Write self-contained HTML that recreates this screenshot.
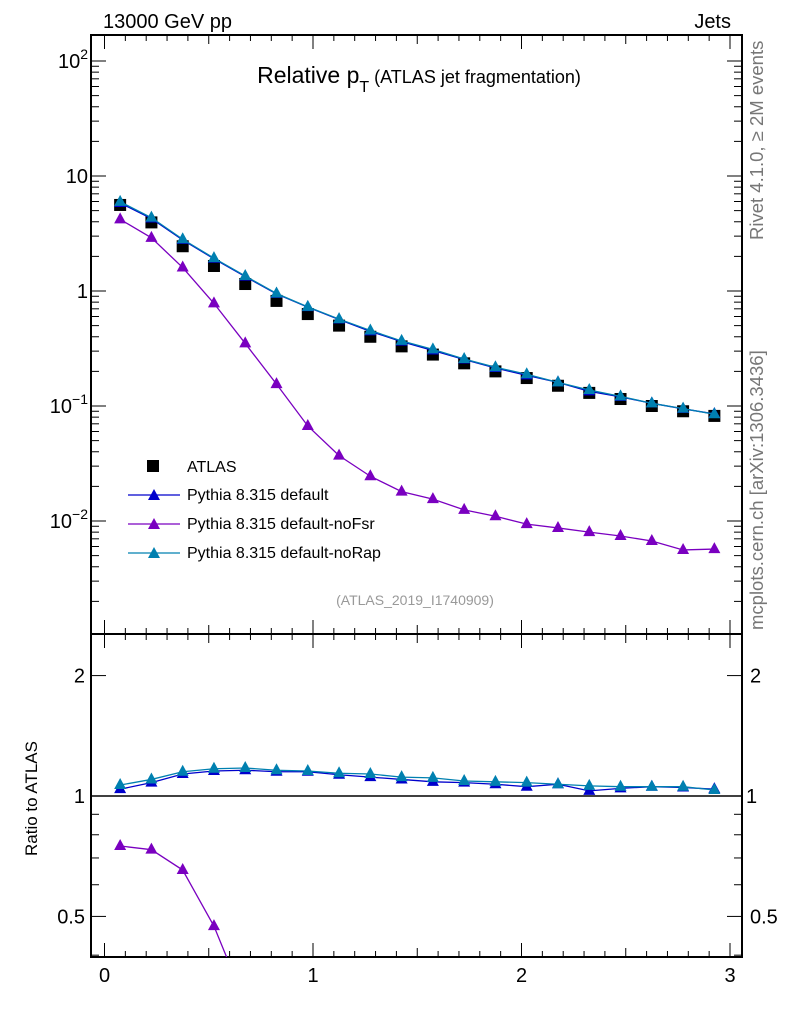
<!DOCTYPE html>
<html><head><meta charset="utf-8"><style>
html,body{margin:0;padding:0;background:#fff;overflow:hidden;width:786px;height:1024px;}
svg{display:block;font-family:"Liberation Sans","DejaVu Sans",sans-serif;overflow:hidden;}
</style></head><body>
<svg id="chart" width="786" height="1024" viewBox="0 0 786 1024">
<g id="axes"></g>
<g id="marks"></g>
<text x="103" y="28" font-size="20">13000 GeV pp</text>
<text x="731" y="28" font-size="20" text-anchor="end">Jets</text>
<text x="419" y="83" font-size="23" text-anchor="middle">Relative p<tspan font-size="16" dy="9">T</tspan><tspan font-size="18" dy="-9"> (ATLAS jet fragmentation)</tspan></text>
<text x="415" y="605" font-size="14" fill="#999" text-anchor="middle">(ATLAS_2019_I1740909)</text>
<text transform="translate(763,240) rotate(-90)" font-size="18.5" fill="#777">Rivet 4.1.0, ≥ 2M events</text>
<text transform="translate(763,630) rotate(-90)" font-size="18.5" fill="#777">mcplots.cern.ch [arXiv:1306.3436]</text>
<text transform="translate(37,856) rotate(-90)" font-size="17">Ratio to ATLAS</text>
<g>
<rect x="147" y="460" width="12" height="12" fill="#000"/>
<text x="187" y="472" font-size="16">ATLAS</text>
<line x1="128" y1="495" x2="180" y2="495" stroke="#0000cc" stroke-width="1.3"/>
<polygon points="154,489 160,500 148,500" fill="#0000cc"/>
<text x="187" y="500" font-size="16">Pythia 8.315 default</text>
<line x1="128" y1="524" x2="180" y2="524" stroke="#7a00c0" stroke-width="1.3"/>
<polygon points="154,518 160,529 148,529" fill="#7a00c0"/>
<text x="187" y="529" font-size="16">Pythia 8.315 default-noFsr</text>
<line x1="128" y1="553" x2="180" y2="553" stroke="#0080b0" stroke-width="1.3"/>
<polygon points="154,547 160,558 148,558" fill="#0080b0"/>
<text x="187" y="558" font-size="16">Pythia 8.315 default-noRap</text>
</g>
</svg>
<script>
const xCenters=[0.075,0.225,0.375,0.525,0.675,0.825,0.975,1.125,1.275,1.425,1.575,1.725,1.875,2.025,2.175,2.325,2.475,2.625,2.775,2.925];
const atlas=[5.6,3.95,2.45,1.65,1.15,0.82,0.63,0.5,0.4,0.33,0.28,0.235,0.2,0.175,0.15,0.13,0.115,0.1,0.09,0.082];
const ratioDefault=[1.04,1.08,1.135,1.155,1.16,1.15,1.15,1.13,1.115,1.10,1.085,1.08,1.07,1.055,1.07,1.03,1.045,1.055,1.05,1.04];
const ratioNoRap=[1.065,1.10,1.15,1.17,1.175,1.16,1.155,1.14,1.135,1.115,1.11,1.09,1.085,1.08,1.07,1.06,1.055,1.055,1.055,1.035];
const noFsr=[4.2,2.9,1.6,0.78,0.35,0.155,0.067,0.037,0.0245,0.018,0.0155,0.0125,0.011,0.0094,0.0087,0.008,0.0074,0.0067,0.0056,0.0057];
const mainTicks=[["10","2"],["10",""],["1",""],["10","−1"],["10","−2"]];
const ratioTicks=[2,1,0.5];

const NS="http://www.w3.org/2000/svg";
const L=91,R=742,T=35,MB=634,RB=957;
const X=v=>104.5+v*208.5;
const Y=v=>291-115*Math.log10(v);
const YR=r=>796-400*Math.log10(r);
const axes=document.getElementById('axes'),marks=document.getElementById('marks');
function el(t,a,p){const e=document.createElementNS(NS,t);for(const k in a)e.setAttribute(k,a[k]);(p||axes).appendChild(e);return e;}
el('defs',{}).innerHTML='<clipPath id="cm"><rect x="91" y="35" width="651" height="599"/></clipPath><clipPath id="cr"><rect x="91" y="634" width="651" height="323"/></clipPath>';
const f1=el('rect',{x:L,y:T,width:R-L,height:MB-T,fill:'none',stroke:'#000','stroke-width':2});


const f2=el('rect',{x:L,y:MB,width:R-L,height:RB-MB,fill:'none',stroke:'#000','stroke-width':2});


for(let i=0;i<=30;i++){const v=i/10,x=X(v);if(x>R)break;const len=i%10==0?14:(i%5==0?9:6);
 el('line',{x1:x,y1:RB,x2:x,y2:RB-len,stroke:'#000'});el('line',{x1:x,y1:MB,x2:x,y2:MB+len,stroke:'#000'});el('line',{x1:x,y1:MB,x2:x,y2:MB-len,stroke:'#000'});el('line',{x1:x,y1:T,x2:x,y2:T+len,stroke:'#000'});
 if(i%10==0){const t=el('text',{x:x,y:982,'font-size':20,'text-anchor':'middle'});t.textContent=String(v);
 
 }}
for(let d=-3;d<=2;d++){for(let m=1;m<10;m++){const v=m*Math.pow(10,d),y=Y(v);if(y<T||y>MB)continue;const len=m==1?15:8;
 el('line',{x1:L,y1:y,x2:L+len,y2:y,stroke:'#000'});el('line',{x1:R,y1:y,x2:R-len,y2:y,stroke:'#000'});}}
mainTicks.forEach((tk,i)=>{const y=Y(Math.pow(10,2-i));const t=el('text',{x:88,y:y+7,'font-size':20,'text-anchor':'end'});
 if(tk[1]){t.innerHTML=tk[0]+'<tspan font-size="14" dy="-9">'+tk[1]+'</tspan>';}else t.textContent=tk[0];
 
 });
[0.4,0.5,0.6,0.7,0.8,0.9,1,2].forEach(v=>{const y=YR(v);const len=(v==1||v==2||v==0.5)?15:8;el('line',{x1:L,y1:y,x2:L+len,y2:y,stroke:'#000'});el('line',{x1:R,y1:y,x2:R-len,y2:y,stroke:'#000'});});
ratioTicks.forEach(v=>{const y=YR(v);if(v==1){const t1=el('text',{x:85,y:y+7,'font-size':20,'text-anchor':'end'});t1.textContent='1';const t2=el('text',{x:746,y:y+7,'font-size':20});t2.textContent='1';return;}
 const a=el('text',{x:85,y:y+7,'font-size':20,'text-anchor':'end'});a.textContent=String(v);
 const b=el('text',{x:750,y:y+7,'font-size':20});b.textContent=String(v);});
el('line',{x1:L,y1:YR(1),x2:R,y2:YR(1),stroke:'#000','stroke-width':1.5});

const gm=el('g',{'clip-path':'url(#cm)'},marks),gr=el('g',{'clip-path':'url(#cr)'},marks);
function series(vals,yf,col,g,name){
 const p=el('polyline',{points:vals.map((v,i)=>X(xCenters[i])+','+yf(v)).join(' '),fill:'none',stroke:col,'stroke-width':1.3},g);
 
 
 vals.forEach((v,i)=>{const x=X(xCenters[i]),y=yf(v);const m=el('polygon',{points:`${x},${y-7} ${x+6},${y+4} ${x-6},${y+4}`,fill:col},g);
 
 });}
atlas.forEach((v,i)=>{const x=X(xCenters[i]),y=Y(v);const r=el('rect',{x:x-6,y:y-6,width:12,height:12,fill:'#000'},gm);
 
 });
series(noFsr,Y,'#7a00c0',gm,'nofsr');
series(atlas.map((a,i)=>a*ratioDefault[i]),Y,'#0000cc',gm,'default');
series(atlas.map((a,i)=>a*ratioNoRap[i]),Y,'#0080b0',gm,'norap');
series(noFsr.map((v,i)=>v/atlas[i]),YR,'#7a00c0',gr,'nofsr-ratio');
series(ratioDefault,YR,'#0000cc',gr,'default-ratio');
series(ratioNoRap,YR,'#0080b0',gr,'norap-ratio');
</script>
</body></html>
